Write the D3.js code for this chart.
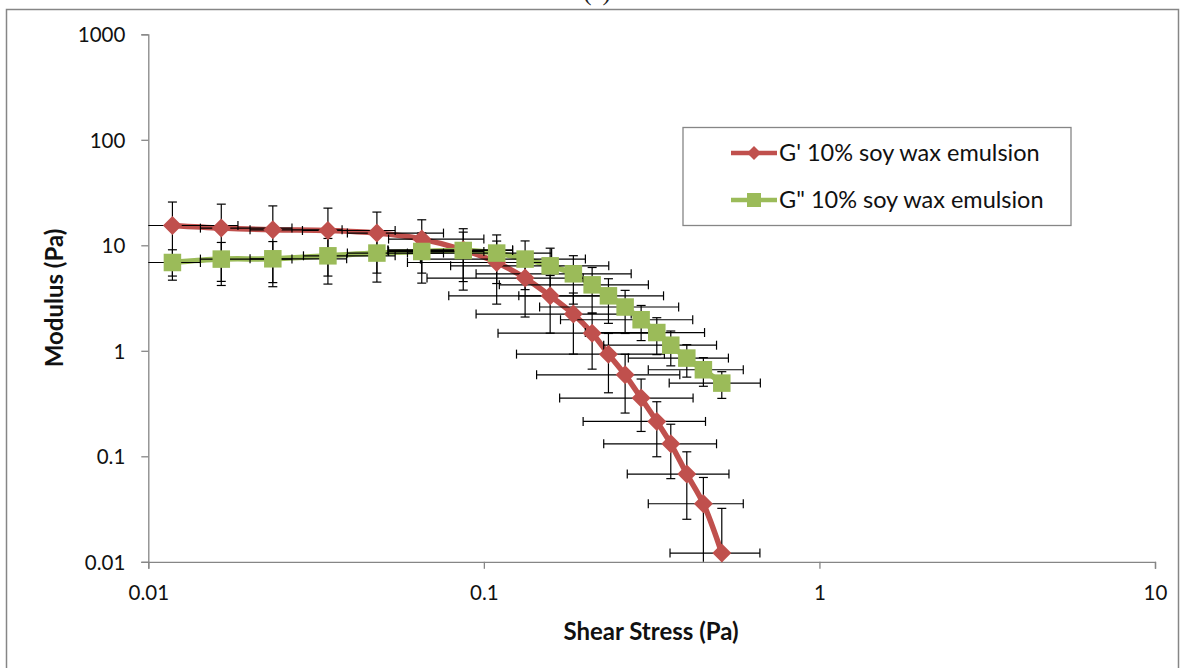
<!DOCTYPE html>
<html><head><meta charset="utf-8">
<script src="https://cdn.jsdelivr.net/npm/d3@7"></script>
<style>body{margin:0;background:#fff}svg{display:block}</style>
</head><body>
<script>
// ---- data ----
const stress = [0.0118, 0.0165, 0.0235, 0.0343, 0.048, 0.0653, 0.0868, 0.1092, 0.1327, 0.1576, 0.1848, 0.2102, 0.2351, 0.2636, 0.2942, 0.3276, 0.3606, 0.4025, 0.451, 0.5117];
const gPrime = [15.41, 14.55, 14.03, 13.81, 13.05, 11.45, 9.06, 6.87, 4.89, 3.32, 2.23, 1.47, 0.930, 0.592, 0.356, 0.214, 0.1314, 0.0678, 0.0355, 0.0121];
const gDouble = [6.87, 7.40, 7.45, 7.95, 8.44, 8.74, 8.93, 8.44, 7.40, 6.39, 5.37, 4.22, 3.32, 2.60, 1.97, 1.49, 1.13, 0.853, 0.661, 0.494];
const gPrimeErr = [10.3, 10.0, 9.6, 8.7, 7.6, 6.0, 5.3, 4.1, 2.8, 1.85, 1.3, 0.8, 0.53, 0.335, 0.184, 0.115, 0.07, 0.0425, 0.0275, 0.02];
const gDoubleErr = [2.2, 3.24, 3.4, 3.66, 3.96, 4.36, 4.4, 4.1, 3.6, 3.0, 2.6, 1.94, 1.5, 1.14, 0.72, 0.57, 0.41, 0.29, 0.2, 0.14];
const gPrimeStressLo = [0.008, 0.0143, 0.0201, 0.0288, 0.0392, 0.052, 0.0518, 0.0592, 0.0677, 0.0786, 0.0948, 0.1102, 0.1251, 0.1436, 0.1682, 0.1976, 0.2276, 0.2675, 0.309, 0.3587];
const gPrimeStressHi = [0.0185, 0.0268, 0.0378, 0.0544, 0.0758, 0.100, 0.1218, 0.1592, 0.1977, 0.2366, 0.2748, 0.3102, 0.3451, 0.3836, 0.4202, 0.4576, 0.4936, 0.5375, 0.593, 0.6647];
const gDoubleStressLo = [0.008, 0.0143, 0.0201, 0.029, 0.0392, 0.052, 0.0518, 0.0592, 0.0647, 0.0796, 0.0948, 0.1112, 0.1271, 0.1466, 0.1692, 0.2006, 0.2276, 0.2695, 0.309, 0.3567];
const gDoubleStressHi = [0.0143, 0.0268, 0.039, 0.0544, 0.0758, 0.100, 0.1218, 0.1592, 0.2007, 0.2356, 0.2748, 0.3092, 0.3431, 0.3806, 0.4192, 0.4546, 0.4936, 0.5355, 0.593, 0.6667];
const xTicks = [0.01, 0.1, 1, 10];
const xTickLabels = ["0.01", "0.1", "1", "10"];
const yTicks = [0.01, 0.1, 1, 10, 100, 1000];
const yTickLabels = ["0.01", "0.1", "1", "10", "100", "1000"];
const seriesNames = ["G' 10% soy wax emulsion", "G\" 10% soy wax emulsion"];
const colors = ["#C0504D", "#9BBB59"];

const W = 1185, H = 668;
const FONT = "Lato, 'Open Sans', sans-serif";
const svg = d3.select("body").append("svg").attr("width", W).attr("height", H);

// outer chart border
svg.append("rect").attr("x", 6.5).attr("y", 9.5).attr("width", 1172).attr("height", 700)
  .attr("fill", "none").attr("stroke", "#868686").attr("stroke-width", 1.5);
// title (cut off at the top edge, as in the reference)
svg.append("text").attr("x", 597).attr("y", 0).attr("text-anchor", "middle")
  .attr("font-family", "'Liberation Serif', serif").attr("font-size", 25).attr("fill", "#222").text("(a)");

const x = d3.scaleLog().domain([0.01, 10]).range([148.3, 1155]);
const y = d3.scaleLog().domain([0.01, 1000]).range([561.8, 34.3]);

// axes
const xAxis = d3.axisBottom(x).tickValues(xTicks).tickFormat((d, i) => xTickLabels[i]).tickSize(7).tickPadding(17);
const yAxis = d3.axisLeft(y).tickValues(yTicks).tickFormat((d, i) => yTickLabels[i]).tickSize(7).tickPadding(16);
const gx = svg.append("g").attr("transform", `translate(0,${y(0.01)})`).call(xAxis);
const gy = svg.append("g").attr("transform", `translate(${x(0.01)},0)`).call(yAxis);
[gx, gy].forEach(g => {
  g.select(".domain").attr("stroke", "#868686").attr("stroke-width", 1.3);
  g.selectAll(".tick line").attr("stroke", "#868686").attr("stroke-width", 1.3);
  g.selectAll(".tick text").attr("font-family", FONT).attr("font-size", 20.5).attr("fill", "#111");
});
gy.selectAll(".tick text").attr("dy", "0.36em");

// axis titles
svg.append("text").attr("x", 651).attr("y", 640).attr("text-anchor", "middle")
  .attr("font-family", FONT).attr("font-weight", "bold").attr("font-size", 24).attr("fill", "#111")
  .text("Shear Stress (Pa)");
svg.append("text").attr("transform", `translate(63,298) rotate(-90)`).attr("text-anchor", "middle")
  .attr("font-family", FONT).attr("font-weight", "bold").attr("font-size", 24).attr("fill", "#111")
  .text("Modulus (Pa)");

const series = [
  {vals: gPrime, err: gPrimeErr, lo: gPrimeStressLo, hi: gPrimeStressHi, color: colors[0], shape: "diamond"},
  {vals: gDouble, err: gDoubleErr, lo: gDoubleStressLo, hi: gDoubleStressHi, color: colors[1], shape: "square"}
];

const line = d3.line().x(d => x(d[0])).y(d => y(d[1])).curve(d3.curveCatmullRom.alpha(0.5));
const plot = svg.append("g");
series.forEach(s => {
  plot.append("path").datum(stress.map((v, i) => [v, s.vals[i]]))
    .attr("d", line).attr("fill", "none").attr("stroke", s.color).attr("stroke-width", 5.5)
    .attr("stroke-linejoin", "round");
});

// error bars
const eb = svg.append("g").attr("stroke", "#000").attr("stroke-width", 1.2).attr("fill", "none");
const cap = 4.5;
const xMin = x.range()[0], yMax = y.range()[0];
series.forEach(s => {
  stress.forEach((sv, i) => {
    const cx = x(sv), cy = y(s.vals[i]);
    const top = s.vals[i] + s.err[i], bot = s.vals[i] - s.err[i];
    const yt = y(top);
    const yb = bot > 0.01 ? y(bot) : yMax;
    eb.append("line").attr("x1", cx).attr("x2", cx).attr("y1", yt).attr("y2", yb);
    eb.append("line").attr("x1", cx - cap).attr("x2", cx + cap).attr("y1", yt).attr("y2", yt);
    if (bot > 0.01) eb.append("line").attr("x1", cx - cap).attr("x2", cx + cap).attr("y1", yb).attr("y2", yb);
    const xl = s.lo[i] > 0.01 ? x(s.lo[i]) : xMin;
    const xr = x(s.hi[i]);
    eb.append("line").attr("x1", xl).attr("x2", xr).attr("y1", cy).attr("y2", cy);
    eb.append("line").attr("x1", xr).attr("x2", xr).attr("y1", cy - cap).attr("y2", cy + cap);
    if (s.lo[i] > 0.01) eb.append("line").attr("x1", xl).attr("x2", xl).attr("y1", cy - cap).attr("y2", cy + cap);
  });
});

// markers
function marker(g, shape, cx, cy, size, color) {
  if (shape === "diamond") {
    const r = size / 2;
    g.append("path").attr("d", `M${cx},${cy - r}L${cx + r},${cy}L${cx},${cy + r}L${cx - r},${cy}Z`).attr("fill", color);
  } else {
    g.append("rect").attr("x", cx - size / 2).attr("y", cy - size / 2).attr("width", size).attr("height", size).attr("fill", color);
  }
}
const mk = svg.append("g");
series.forEach(s => {
  stress.forEach((sv, i) => marker(mk, s.shape, x(sv), y(s.vals[i]), s.shape === "diamond" ? 19 : 17.5, s.color));
});

// legend
const lg = svg.append("g");
lg.append("rect").attr("x", 683).attr("y", 127.5).attr("width", 388).attr("height", 98)
  .attr("fill", "#fff").attr("stroke", "#868686").attr("stroke-width", 1.3);
series.forEach((s, i) => {
  const ly = 153 + i * 47;
  lg.append("line").attr("x1", 731).attr("x2", 777).attr("y1", ly).attr("y2", ly)
    .attr("stroke", s.color).attr("stroke-width", 4.5);
  marker(lg, s.shape, 754, ly, s.shape === "diamond" ? 14 : 14, s.color);
  lg.append("text").attr("x", 779).attr("y", ly).attr("dy", "0.36em")
    .attr("font-family", FONT).attr("font-size", 23.5).attr("fill", "#111").text(seriesNames[i]);
});
</script>
</body></html>
